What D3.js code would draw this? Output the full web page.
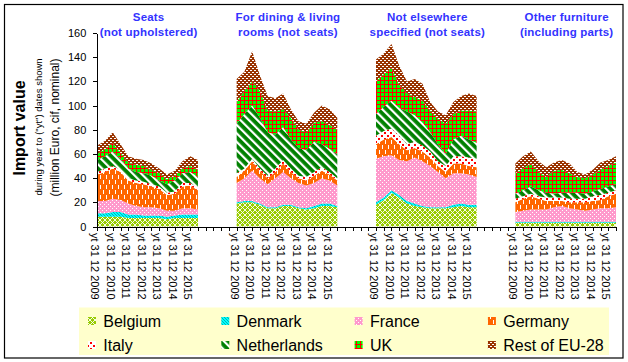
<!DOCTYPE html>
<meta charset="utf-8">
<style>
body { margin: 0; background: #fff; }
svg { font-family: "Liberation Sans", Arial, sans-serif; }
.axis path, .axis line { stroke: #000; shape-rendering: crispEdges; }
.axis text { fill: #000; font-size: 11px; font-family: "Liberation Sans", Arial, sans-serif; }
.gtitle { fill: #3333ff; font-weight: bold; font-size: 11.5px; text-anchor: middle; letter-spacing: 0.2px; }
.cat { font-size: 11px; fill: #000; }
.leg { font-size: 16px; fill: #000; }
</style>
<svg width="628" height="362"></svg>
<script src="https://cdn.jsdelivr.net/npm/d3@7"></script>
<script>
// half-yearly "year to" dates, one point each per panel
var periods = ["yt 31 12 2009", "yt 30 06 2010", "yt 31 12 2010", "yt 30 06 2011", "yt 31 12 2011",
               "yt 30 06 2012", "yt 31 12 2012", "yt 30 06 2013", "yt 31 12 2013", "yt 30 06 2014",
               "yt 31 12 2014", "yt 30 06 2015", "yt 31 12 2015", "yt 30 06 2016"];

var panels = [["Seats", "(not upholstered)"],
              ["For dining & living", "rooms (not seats)"],
              ["Not elsewhere", "specified (not seats)"],
              ["Other furniture", "(including parts)"]];

var countries = ["Belgium", "Denmark", "France", "Germany", "Italy", "Netherlands", "UK", "Rest of EU-28"];

// million euro, one row per panel
var belgium = [
  [8, 8, 8, 8, 7, 7, 7, 7, 7, 6, 7, 7, 7, 7],
  [19, 20, 20, 18, 15, 15, 17, 17, 15, 14, 15, 17, 17, 16],
  [18, 22, 28, 24, 19, 17, 16, 15, 15, 15, 16, 17, 16, 16],
  [3, 3, 3, 3, 3, 3, 3, 3, 3, 3, 3, 3, 3, 3]];
var denmark = [
  [3, 3, 4, 4, 3, 3, 2, 2, 2, 2, 2, 3, 3, 3],
  [1, 1, 1, 1, 1, 1, 1, 1, 1, 1, 2, 2, 2, 1],
  [2, 2, 2, 2, 2, 2, 1, 1, 1, 1, 2, 2, 2, 2],
  [1, 1, 1, 1, 1, 1, 1, 1, 1, 1, 1, 1, 1, 1]];
var france = [
  [10, 10, 11, 10, 9, 7, 7, 7, 6, 5, 4, 5, 5, 4],
  [16, 19, 25, 21, 19, 24, 27, 22, 20, 19, 19, 21, 19, 17],
  [36, 34, 29, 29, 33, 38, 37, 34, 29, 24, 26, 25, 25, 23],
  [8, 9, 10, 10, 10, 12, 13, 11, 10, 9, 10, 11, 11, 12]];
var germany = [
  [22, 24, 25, 23, 19, 19, 19, 17, 16, 13, 14, 18, 19, 16],
  [5, 6, 8, 6, 5, 5, 7, 5, 4, 4, 6, 6, 5, 4],
  [12, 14, 15, 13, 9, 8, 8, 7, 5, 5, 8, 8, 7, 8],
  [8, 10, 11, 9, 7, 5, 4, 5, 6, 7, 7, 7, 10, 11]];
var italy = [
  [2, 3, 2, 2, 2, 2, 2, 2, 2, 2, 2, 3, 2, 2],
  [3, 2, 2, 2, 2, 3, 3, 3, 2, 3, 3, 3, 2, 2],
  [7, 7, 7, 7, 5, 5, 5, 5, 4, 5, 6, 6, 7, 7],
  [3, 2, 2, 2, 3, 3, 3, 3, 3, 3, 4, 4, 3, 3]];
var netherlands = [
  [10, 10, 12, 9, 8, 7, 7, 7, 5, 7, 9, 8, 9, 9],
  [41, 45, 44, 42, 36, 28, 27, 24, 23, 22, 25, 19, 19, 20],
  [18, 20, 23, 23, 27, 22, 19, 16, 14, 10, 14, 17, 15, 13],
  [4, 5, 6, 5, 4, 3, 4, 5, 5, 4, 4, 5, 5, 5]];
var uk = [
  [5, 6, 7, 5, 5, 6, 6, 5, 6, 4, 4, 4, 5, 6],
  [18, 19, 20, 22, 18, 19, 15, 18, 15, 15, 16, 19, 20, 20],
  [27, 27, 27, 19, 15, 15, 18, 18, 21, 25, 21, 21, 24, 26],
  [17, 18, 19, 15, 13, 19, 19, 16, 13, 13, 14, 16, 17, 18]];
var restEU = [
  [7, 7, 9, 7, 5, 5, 5, 5, 4, 4, 4, 6, 8, 8],
  [19, 16, 25, 13, 12, 11, 13, 7, 7, 7, 8, 13, 13, 10],
  [18, 17, 20, 16, 10, 15, 14, 7, 6, 7, 10, 12, 14, 13],
  [8, 10, 10, 9, 8, 7, 8, 8, 4, 3, 4, 6, 5, 5]];

var series = [belgium, denmark, france, germany, italy, netherlands, uk, restEU];
var yTicks = [0, 20, 40, 60, 80, 100, 120, 140, 160];

var svg = d3.select("svg");
var gap = 4;                       // empty category slots between panels
var slot = periods.length + gap;
var nSlots = panels.length * slot - gap;

var x = d3.scaleLinear().domain([0, nSlots - 1]).range([97.3, 616]);
var y = d3.scaleLinear().domain([0, 160]).range([226.5, 33]);

// fill patterns
var defs = svg.append("defs");
function pat(id, w, h, bg, rot) {
    var p = defs.append("pattern").attr("id", id)
        .attr("patternUnits", "userSpaceOnUse")
        .attr("width", w).attr("height", h);
    if (rot) p.attr("patternTransform", "rotate(" + rot + ")");
    p.append("rect").attr("width", w).attr("height", h).attr("fill", bg);
    return p;
}
function box(p, x0, y0, w, h, c) {
    p.append("rect").attr("x", x0).attr("y", y0).attr("width", w).attr("height", h).attr("fill", c);
}
var p;
p = pat("p0", 5, 5, "#99cc00");
p.append("path").attr("d", "M0,0L5,5M5,0L0,5").attr("stroke", "#fff").attr("stroke-width", 0.9);
p = pat("p1", 3, 3, "#00ffff");
p.append("path").attr("d", "M0,0L3,3M-1,2L1,4M2,-1L4,1").attr("stroke", "#00a0a0").attr("stroke-width", 0.8);
p = pat("p2", 4, 4, "#ff99cc");
box(p, 0, 0, 1, 1, "#fff"); box(p, 2, 2, 1, 1, "#fff");
p = pat("p3", 6, 10, "#ff6600");
box(p, 1, 0, 1, 4, "#fff"); box(p, 4, 5, 1, 4, "#fff");
p = pat("p4", 6, 6, "#fff");
box(p, 0, 0, 2, 2, "#ff0000"); box(p, 3, 3, 2, 2, "#ff0000");
p = pat("p5", 6, 6, "#008000", -45);
box(p, 0, 0, 2.2, 6, "#fff");
p = pat("p6", 4, 4, "#00ff00");
box(p, 0, 0, 4, 1, "#ff0000"); box(p, 0, 0, 1, 4, "#ff0000");
p = pat("p7", 4, 4, "#993300");
box(p, 0, 0, 2, 1, "#fff"); box(p, 2, 2, 2, 1, "#fff");

// outer frame
svg.append("rect").attr("x", 4.5).attr("y", 4.5).attr("width", 618.5).attr("height", 353.5)
    .attr("fill", "#fff").attr("stroke", "#000").attr("stroke-width", 1.2);

// stacked areas, one panel at a time
var stack = d3.stack().keys(countries);
panels.forEach(function(title, g) {
    var rows = periods.map(function(per, i) {
        var o = { i: i };
        countries.forEach(function(c, k) { o[c] = series[k][g][i]; });
        return o;
    });
    var area = d3.area()
        .x(function(d) { return x(g * slot + d.data.i); })
        .y0(function(d) { return y(d[0]); })
        .y1(function(d) { return y(d[1]); });
    svg.append("g").selectAll("path")
        .data(stack(rows))
        .enter().append("path")
        .attr("d", area)
        .attr("fill", function(d, k) { return "url(#p" + k + ")"; });

    var cx = (x(g * slot) + x(g * slot + periods.length - 1)) / 2 + 1;
    svg.append("text").attr("class", "gtitle").attr("x", cx).attr("y", 21).text(title[0]);
    svg.append("text").attr("class", "gtitle").attr("x", cx).attr("y", 36).text(title[1]);

    periods.forEach(function(per, i) {
        if (per.indexOf("31 12") < 0) return;
        svg.append("text").attr("class", "cat")
            .attr("transform", "translate(" + (x(g * slot + i) - 2) + ",233) rotate(90)")
            .attr("dy", "0.35em")
            .text(per);
    });
});

// axes
svg.append("g").attr("class", "axis")
    .attr("transform", "translate(0,226.5)")
    .call(d3.axisBottom(x).tickValues(d3.range(0, nSlots)).tickSize(4).tickSizeOuter(0).tickFormat(""));

svg.append("g").attr("class", "axis")
    .attr("transform", "translate(97.3,0)")
    .call(d3.axisLeft(y).tickValues(yTicks).tickSize(4).tickSizeOuter(0).tickPadding(7));

// y title
svg.append("text").attr("transform", "translate(25,128) rotate(-90)")
    .attr("text-anchor", "middle").style("font-size", "16px").style("font-weight", "bold")
    .text("Import value");
svg.append("text").attr("transform", "translate(42,127) rotate(-90)")
    .attr("text-anchor", "middle").style("font-size", "9.5px")
    .text("during year to (\"yt\") dates shown");
svg.append("text").attr("transform", "translate(59,127.5) rotate(-90)")
    .attr("text-anchor", "middle").style("font-size", "12px")
    .text("(million Euro, cif, nominal)");

// legend
var legend = svg.append("g");
legend.append("rect").attr("x", 79).attr("y", 307.5).attr("width", 530).attr("height", 47.5).attr("fill", "#ffffcc");
countries.forEach(function(c, k) {
    var col = k % 4, row = Math.floor(k / 4);
    var lx = 88 + col * 133.3, ly = 317 + row * 24;
    legend.append("rect").attr("x", lx).attr("y", ly).attr("width", 8).attr("height", 8)
        .attr("fill", "url(#p" + k + ")");
    legend.append("text").attr("class", "leg").attr("x", lx + 15.3).attr("y", ly + 9.7).text(c);
});
</script>
